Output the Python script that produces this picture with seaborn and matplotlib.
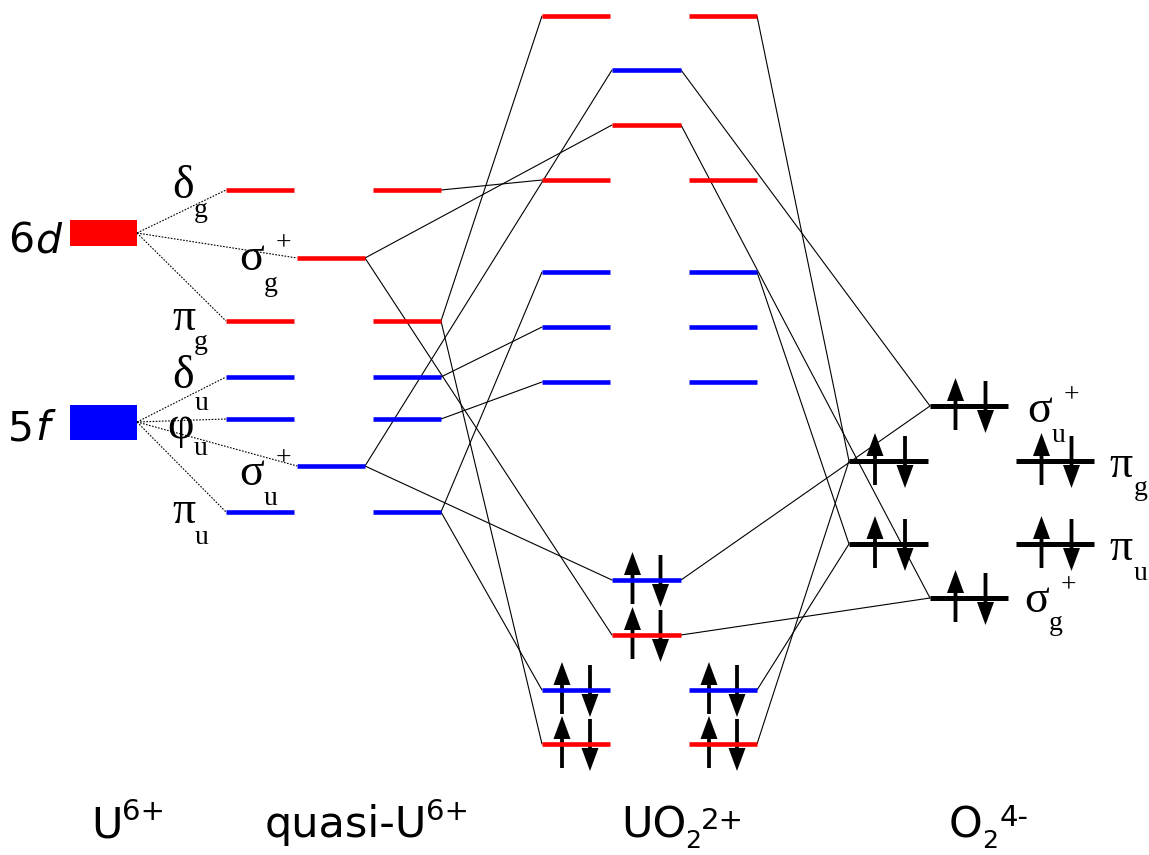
import numpy as np
import pandas as pd
import matplotlib
matplotlib.use("Agg")
import matplotlib.pyplot as plt
from matplotlib.patches import Rectangle
import seaborn as sns

# ---------------------------------------------------------------------------
# Orbital energies (arbitrary energy scale, larger value = lower on the page)
# ---------------------------------------------------------------------------
atomic_names = ["6d", "5f"]
atomic_energy = [233, 422]
atomic_color = ["#ff0000", "#0000ff"]

quasi_names = ["dg", "sg", "pg", "du", "fu", "su", "pu"]
quasi_energy = [190, 258, 321, 377, 419, 466, 512]
quasi_parent = [0, 0, 0, 1, 1, 1, 1]
quasi_sigma = [False, True, False, False, False, True, False]

uo2_outer_energy = [16, 180, 272, 327, 382, 690, 744]
uo2_outer_color = ["#ff0000", "#ff0000", "#0000ff", "#0000ff", "#0000ff", "#0000ff", "#ff0000"]
uo2_outer_occ = [0, 0, 0, 0, 0, 2, 2]

uo2_center_energy = [70, 125, 580, 635]
uo2_center_color = ["#0000ff", "#ff0000", "#0000ff", "#ff0000"]
uo2_center_occ = [0, 0, 2, 2]

o2_names = ["su", "pg", "pu", "sg"]
o2_energy = [406, 461, 544, 598]
o2_sigma = [True, False, False, True]
o2_occ = [2, 2, 2, 2]

# correlation lines: quasi-U6+ level -> UO2 2+ level
quasi_to_outer = [("dg", 1), ("pg", 0), ("pg", 6), ("du", 3), ("fu", 4), ("pu", 2), ("pu", 5)]
quasi_to_center = [("sg", 1), ("sg", 3), ("su", 0), ("su", 2)]
# correlation lines: UO2 2+ level -> O2 4- level
outer_to_o2 = [(0, "pg"), (6, "pg"), (2, "pu"), (5, "pu")]
center_to_o2 = [(0, "su"), (2, "su"), (1, "sg"), (3, "sg")]

# ---------------------------------------------------------------------------
# Column layout (horizontal extents of the level bars)
# ---------------------------------------------------------------------------
BOX = (70, 137)
Q_SPLIT = (226, 294)
Q_SIGMA = (297, 365)
Q_RIGHT = (373, 441)
UO2_L = (542, 610)
UO2_C = (612, 681)
UO2_R = (689, 757)
O2_L = (849, 928)
O2_C = (930, 1008)
O2_R = (1016, 1094)

sns.set_theme(style="white")
plt.rcParams["font.family"] = ["DejaVu Sans"]
plt.rcParams["text.color"] = "black"

fig = plt.figure(figsize=(11.49, 8.55), dpi=100)
ax = fig.add_axes([0, 0, 1, 1])

levels = []   # rows: seg, x, y, color
links = []    # rows: seg, x, y
dots = []


def add_level(x0, x1, y, color):
    sid = len(levels) // 2
    levels.append((sid, x0, y, color))
    levels.append((sid, x1, y, color))


def add_link(store, x0, y0, x1, y1):
    sid = len(store) // 2
    store.append((sid, x0, y0))
    store.append((sid, x1, y1))


qE = dict(zip(quasi_names, quasi_energy))
oE = dict(zip(o2_names, o2_energy))

# quasi-U6+ levels (split column + right copies)
for name, e, par, sig in zip(quasi_names, quasi_energy, quasi_parent, quasi_sigma):
    col = atomic_color[par]
    if sig:
        add_level(*Q_SIGMA, e, col)
        add_link(dots, BOX[1], atomic_energy[par], Q_SIGMA[0], e)
    else:
        add_level(*Q_SPLIT, e, col)
        add_level(*Q_RIGHT, e, col)
        add_link(dots, BOX[1], atomic_energy[par], Q_SPLIT[0], e)

# UO2 2+ levels
for e, c in zip(uo2_outer_energy, uo2_outer_color):
    add_level(*UO2_L, e, c)
    add_level(*UO2_R, e, c)
for e, c in zip(uo2_center_energy, uo2_center_color):
    add_level(*UO2_C, e, c)

# correlation lines
for q, i in quasi_to_outer:
    add_link(links, Q_RIGHT[1], qE[q], UO2_L[0], uo2_outer_energy[i])
for q, i in quasi_to_center:
    add_link(links, Q_SIGMA[1], qE[q], UO2_C[0], uo2_center_energy[i])
for i, o in outer_to_o2:
    add_link(links, UO2_R[1], uo2_outer_energy[i], O2_L[0], oE[o])
for i, o in center_to_o2:
    add_link(links, UO2_C[1], uo2_center_energy[i], O2_C[0], oE[o])

lev_df = pd.DataFrame(levels, columns=["seg", "x", "y", "color"])
link_df = pd.DataFrame(links, columns=["seg", "x", "y"])
dot_df = pd.DataFrame(dots, columns=["seg", "x", "y"])

sns.lineplot(data=link_df, x="x", y="y", units="seg", estimator=None, sort=False,
             color="black", lw=0.8, ax=ax)
sns.lineplot(data=dot_df, x="x", y="y", units="seg", estimator=None, sort=False,
             color="black", lw=0.8, linestyle=(0, (1.5, 1.3)), ax=ax)
sns.lineplot(data=lev_df, x="x", y="y", units="seg", hue="color", estimator=None,
             sort=False, palette={c: c for c in lev_df["color"].unique()},
             lw=3.3, legend=False, ax=ax, solid_capstyle="butt")

# O2 4- levels (black)
o2_rows = []
for k, (e, sig) in enumerate(zip(o2_energy, o2_sigma)):
    cols = [O2_C] if sig else [O2_L, O2_R]
    for j, (x0, x1) in enumerate(cols):
        o2_rows.append((f"{k}-{j}", x0, e))
        o2_rows.append((f"{k}-{j}", x1, e))
o2_df = pd.DataFrame(o2_rows, columns=["seg", "x", "y"])
sns.lineplot(data=o2_df, x="x", y="y", units="seg", estimator=None, sort=False,
             color="black", lw=3.6, ax=ax, solid_capstyle="butt")

# atomic U6+ boxes
for e, c in zip(atomic_energy, atomic_color):
    h = 26 if c == "#ff0000" else 35
    ax.add_patch(Rectangle((BOX[0], e - h / 2), BOX[1] - BOX[0], h, color=c, lw=0))


# electron pairs
def pair(xmid, y, du=-14, dd=14):
    ax.arrow(xmid + du, y + 24, 0, -52, width=3.8, head_width=17, head_length=23,
             length_includes_head=True, fc="black", ec="none")
    ax.arrow(xmid + dd, y - 25, 0, 52, width=3.8, head_width=17, head_length=23,
             length_includes_head=True, fc="black", ec="none")


for e, n in zip(uo2_outer_energy, uo2_outer_occ):
    if n == 2:
        pair(sum(UO2_L) / 2, e)
        pair(sum(UO2_R) / 2, e)
for e, n in zip(uo2_center_energy, uo2_center_occ):
    if n == 2:
        pair(sum(UO2_C) / 2, e)
for e, n, sig in zip(o2_energy, o2_occ, o2_sigma):
    cols = [O2_C] if sig else [O2_L, O2_R]
    for c in cols:
        pair(sum(c) / 2, e, -13.5, 16.5)

# symmetry labels
serif = ["Liberation Serif", "DejaVu Serif"]
GS, SS = 33, 20


def sym(x, base, letter, sub, sup=False, sub_dx=22, sub_dy=19):
    ax.text(x, base, letter, fontsize=GS, family=serif, ha="left", va="baseline")
    ax.text(x + sub_dx, base + sub_dy, sub, fontsize=SS, family=serif, ha="left", va="baseline")
    if sup:
        ax.text(x + sub_dx + 12, base - 20, "+", fontsize=SS, family=serif, ha="left", va="baseline")


sym(172, 198, "δ", "g")
sym(239, 270, "σ", "g", sup=True, sub_dx=25, sub_dy=21)
sym(172, 330, "π", "g")
sym(172, 388, "δ", "u", sub_dx=23, sub_dy=22)
sym(167, 438, "φ", "u", sub_dx=27, sub_dy=17)
sym(239, 485, "σ", "u", sup=True, sub_dx=25, sub_dy=20)
sym(172, 523, "π", "u", sub_dx=23, sub_dy=21)

sym(1027, 422, "σ", "u", sup=True, sub_dx=25, sub_dy=20)
sym(1109, 477, "π", "g", sub_dx=25, sub_dy=18)
sym(1109, 560, "π", "u", sub_dx=25, sub_dy=20)
sym(1024, 612, "σ", "g", sup=True, sub_dx=25, sub_dy=18)

# atomic labels
ax.text(8, 252, "6", fontsize=29.5, ha="left", va="baseline")
ax.text(35, 252, "d", fontsize=29.5, style="italic", ha="left", va="baseline")
ax.text(8, 440, "5", fontsize=29.5, ha="left", va="baseline")
ax.text(35, 440, "f", fontsize=29.5, style="italic", ha="left", va="baseline")

# fragment names
BS, SPS = 31, 21
ax.text(91, 837, "U", fontsize=BS, ha="left", va="baseline")
ax.text(122, 820, "6+", fontsize=SPS, ha="left", va="baseline")
ax.text(265, 837, "quasi-U", fontsize=BS, ha="left", va="baseline")
ax.text(426, 820, "6+", fontsize=SPS, ha="left", va="baseline")
ax.text(621, 837, "UO", fontsize=BS, ha="left", va="baseline")
ax.text(685, 848, "2", fontsize=18, ha="left", va="baseline")
ax.text(701, 829, "2+", fontsize=SPS, ha="left", va="baseline")
ax.text(949, 837, "O", fontsize=BS, ha="left", va="baseline")
ax.text(982, 848, "2", fontsize=18, ha="left", va="baseline")
ax.text(1000, 826, "4-", fontsize=SPS, ha="left", va="baseline")

ax.set_xlim(0, 1149)
ax.set_ylim(855, 0)
ax.axis("off")
fig.savefig("out.png", dpi=100)
